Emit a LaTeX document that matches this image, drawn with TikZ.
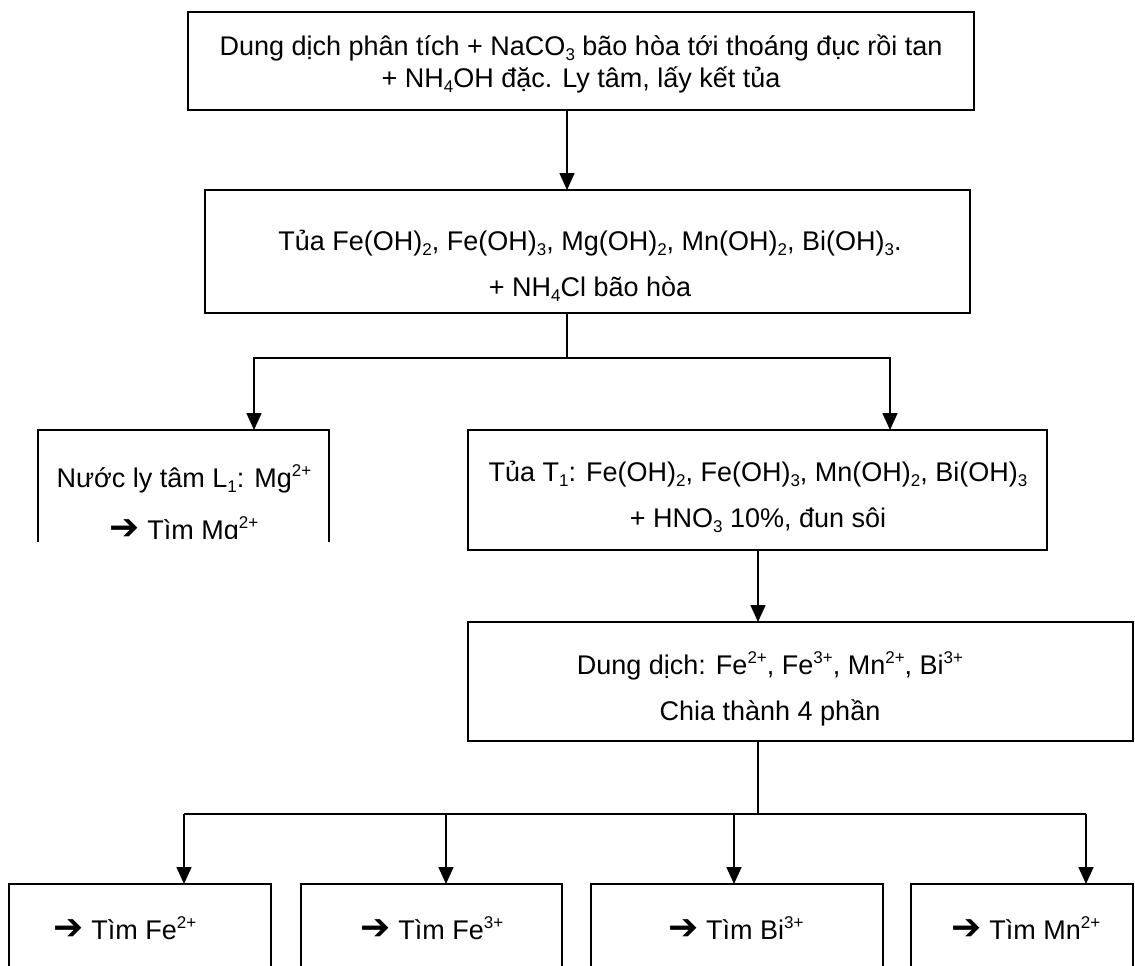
\documentclass[tikz,border=0pt]{standalone}
\usepackage{fontspec}
\setmainfont{Liberation Sans}
\newfontfamily\symfont{DejaVu Sans}
\usetikzlibrary{arrows.meta}
\newcommand{\chsub}[1]{\raisebox{-0.32ex}{\fontsize{17}{17}\selectfont #1}}
\newcommand{\chsup}[1]{\raisebox{0.78ex}{\fontsize{17}{17}\selectfont #1}}
\newcommand{\goarrow}{{\symfont\fontsize{36}{36}\selectfont ➔}}
\begin{document}
\begin{tikzpicture}[x=1pt,y=-1pt,
  box/.style={draw, line width=1.6pt, inner sep=0pt, outer sep=0pt, rectangle},
  frame/.style={inner sep=0pt, outer sep=0pt, rectangle},
  conn/.style={line width=1.6pt},
  arr/.style={conn, -{Triangle[width=15pt,length=17pt]}},
  lbl/.style={inner sep=0pt, align=center},
  single/.style={lbl, font=\fontsize{27}{32}\selectfont},
  wide/.style={lbl, font=\fontsize{27}{46}\selectfont}]
\useasboundingbox (0,0) rectangle (1135,966);

% boxes (centre, width, height)
\node[box, minimum width=786, minimum height=98]  (top) at (581,61) {};
\node[box, minimum width=765, minimum height=123] (mid) at (587.5,251.5) {};
\node[frame, minimum width=291, minimum height=112] (L1) at (183.5,486) {};
\node[box, minimum width=579, minimum height=120] (T1)  at (757.5,490) {};
\node[box, minimum width=665, minimum height=119] (DD)  at (800.5,681.5) {};
\node[box, minimum width=262, minimum height=170] (B1)  at (140,969) {};
\node[box, minimum width=261, minimum height=170] (B2)  at (431.5,969) {};
\node[box, minimum width=292, minimum height=170] (B3)  at (737,969) {};
\node[box, minimum width=222, minimum height=170] (B4)  at (1022,969) {};

% the L1 frame is cut off below its second line
\draw[conn] (L1.south west) -- (L1.north west) -- (L1.north east) -- (L1.south east);

% texts
\node[single] (ttop) at (581,64)
  {Dung dịch phân tích + NaCO\chsub{3} bão hòa tới thoáng đục rồi tan\\
   + NH\chsub{4}OH đặc. Ly tâm, lấy kết tủa};
\node[wide] (tmid) at (590,266)
  {Tủa Fe(OH)\chsub{2}, Fe(OH)\chsub{3}, Mg(OH)\chsub{2}, Mn(OH)\chsub{2}, Bi(OH)\chsub{3}.\\
   + NH\chsub{4}Cl bão hòa};
\begin{scope}
  \clip (L1.north west) rectangle ([yshift=4pt]L1.south east);
  \node[lbl, font=\fontsize{27}{52}\selectfont] (tL1) at (184,505)
    {Nước ly tâm L\chsub{1}: Mg\chsup{2+}\\ \goarrow\ Tìm Mg\chsup{2+}};
\end{scope}
\node[wide] (tT1) at (758,497)
  {Tủa T\chsub{1}: Fe(OH)\chsub{2}, Fe(OH)\chsub{3}, Mn(OH)\chsub{2}, Bi(OH)\chsub{3}\\
   + HNO\chsub{3} 10\%, đun sôi};
\node[wide] (tDD) at (770,689)
  {Dung dịch: Fe\chsup{2+}, Fe\chsup{3+}, Mn\chsup{2+}, Bi\chsup{3+}\\
   Chia thành 4 phần};
\node[single] (tB1) at (125,928) {\goarrow\ Tìm Fe\chsup{2+}};
\node[single] (tB2) at (432,928) {\goarrow\ Tìm Fe\chsup{3+}};
\node[single] (tB3) at (736,928) {\goarrow\ Tìm Bi\chsup{3+}};
\node[single] (tB4) at (1026,928) {\goarrow\ Tìm Mn\chsup{2+}};

% junctions of the connectors
\coordinate (s1) at (567,150);
\coordinate (j1) at (567,358);
\coordinate (aL) at (254,358);
\coordinate (aR) at (890,358);
\coordinate (j2) at (758,814);
\coordinate (b1) at (184,814);
\coordinate (b2) at (446,814);
\coordinate (b3) at (734,814);
\coordinate (b4) at (1086,814);

% connectors
\draw[arr] (top.south -| s1) -- (mid.north -| s1);
\draw[conn] (mid.south -| j1) -- (j1);
\draw[arr] (j1) -- (aL) -- (aL |- L1.north);
\draw[arr] (j1) -- (aR) -- (aR |- T1.north);
\draw[arr] (T1.south -| j2) -- (DD.north -| j2);
\draw[conn] (DD.south -| j2) -- (j2);
\draw[conn] (b1) -- (b4);
\draw[arr] (b1) -- (b1 |- B1.north);
\draw[arr] (b2) -- (b2 |- B2.north);
\draw[arr] (b3) -- (b3 |- B3.north);
\draw[arr] (b4) -- (b4 |- B4.north);
\end{tikzpicture}
\end{document}
